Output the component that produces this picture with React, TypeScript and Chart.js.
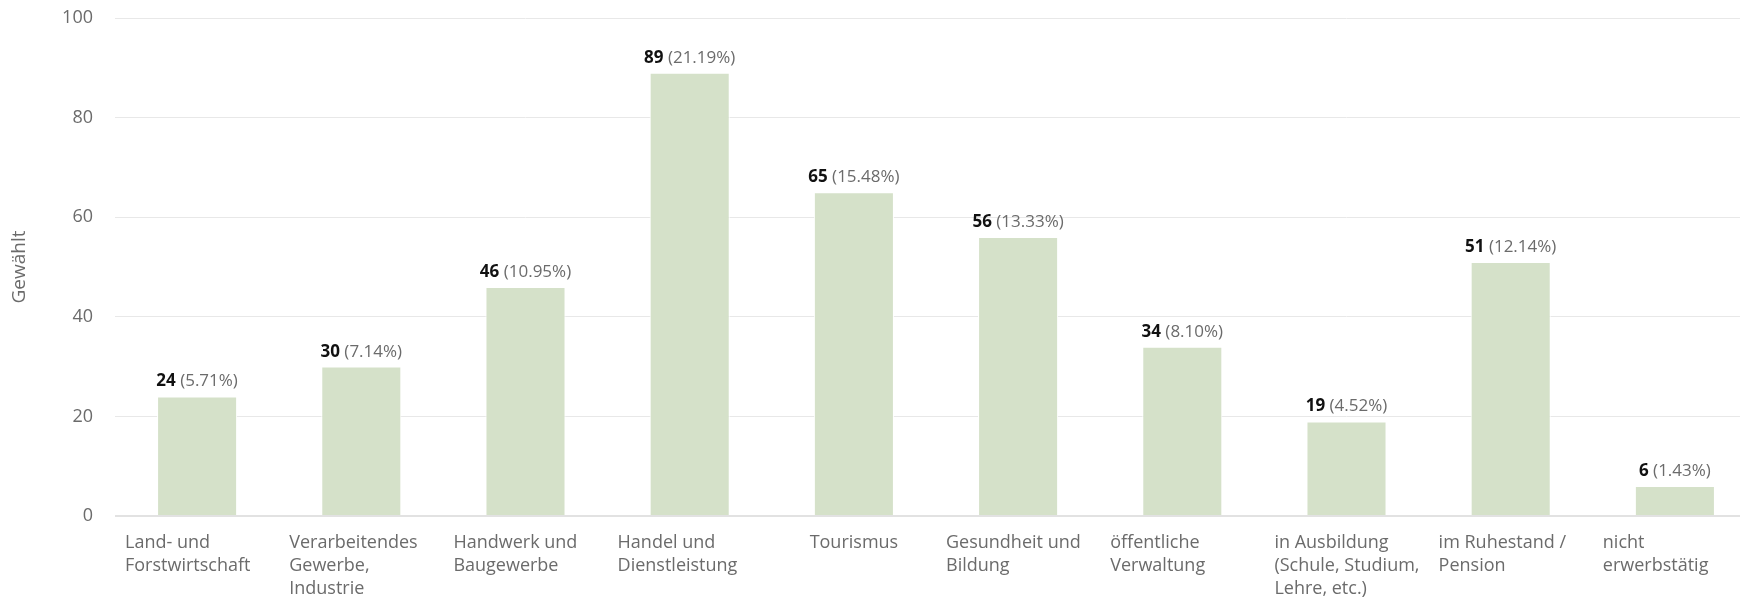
import React, { useEffect, useRef } from 'react';
import { Chart, registerables } from 'chart.js';

Chart.register(...registerables);

const categories: string[][] = [
  ['Land- und', 'Forstwirtschaft'],
  ['Verarbeitendes', 'Gewerbe,', 'Industrie'],
  ['Handwerk und', 'Baugewerbe'],
  ['Handel und', 'Dienstleistung'],
  ['Tourismus'],
  ['Gesundheit und', 'Bildung'],
  ['öffentliche', 'Verwaltung'],
  ['in Ausbildung', '(Schule, Studium,', 'Lehre, etc.)'],
  ['im Ruhestand /', 'Pension'],
  ['nicht', 'erwerbstätig'],
];
const counts: number[] = [24, 30, 46, 89, 65, 56, 34, 19, 51, 6];
const percentLabels: string[] = ['5.71%', '7.14%', '10.95%', '21.19%', '15.48%', '13.33%', '8.10%', '4.52%', '12.14%', '1.43%'];
const yMin = 0;
const yMax = 100;
const yStep = 20;
const yTitle = 'Gewählt';

const FONT = '"Open Sans", "Noto Sans", sans-serif';
const TICK_COLOR = '#6b6b6b';
const BAR_COLOR = 'rgb(213, 225, 201)';

const CANVAS_W = 1752;
const CANVAS_H = 590;

const barLabelPlugin = {
  id: 'barLabels',
  afterDatasetsDraw(chart: any) {
    const ctx = chart.ctx;
    const meta = chart.getDatasetMeta(0);
    meta.data.forEach((bar: any, i: number) => {
      const num = String(counts[i]);
      const pct = ' (' + percentLabels[i] + ')';
      ctx.save();
      ctx.font = `bold 17px ${FONT}`;
      const w1 = ctx.measureText(num).width;
      ctx.font = `17px ${FONT}`;
      const w2 = ctx.measureText(pct).width;
      const start = bar.x - (w1 + w2) / 2;
      const y = bar.y - 10;
      ctx.textBaseline = 'alphabetic';
      ctx.textAlign = 'left';
      ctx.font = `bold 17px ${FONT}`;
      ctx.fillStyle = '#111111';
      ctx.fillText(num, start, y);
      ctx.font = `17px ${FONT}`;
      ctx.fillStyle = TICK_COLOR;
      ctx.fillText(pct, start + w1, y);
      ctx.restore();
    });
  },
};

const categoryLabelPlugin = {
  id: 'categoryLabels',
  afterDraw(chart: any) {
    const ctx = chart.ctx;
    const xs = chart.scales.x;
    const n = categories.length;
    const catW = (xs.right - xs.left) / n;
    const lineH = 23;
    const firstY = xs.top + 27;
    ctx.save();
    ctx.font = `18px ${FONT}`;
    ctx.fillStyle = TICK_COLOR;
    ctx.textBaseline = 'middle';
    categories.forEach((lines, i) => {
      const cx = xs.getPixelForValue(i);
      let x: number;
      if (lines.length === 1) {
        ctx.textAlign = 'center';
        x = cx;
      } else {
        ctx.textAlign = 'left';
        x = cx - catW / 2 + 10;
      }
      lines.forEach((ln, j) => ctx.fillText(ln, x, firstY + j * lineH));
    });
    ctx.restore();
  },
};

export default function App() {
  const canvasRef = useRef<HTMLCanvasElement | null>(null);

  useEffect(() => {
    document.documentElement.style.overflow = 'hidden';
    if (!canvasRef.current) return;
    const chart = new Chart(canvasRef.current, {
      type: 'bar',
      data: {
        labels: categories.map((c) => c.join(' ')),
        datasets: [
          {
            data: counts,
            backgroundColor: BAR_COLOR,
            borderColor: '#ffffff',
            borderWidth: 1,
            categoryPercentage: 0.5,
            barPercentage: 0.975,
          },
        ],
      },
      options: {
        animation: false,
        responsive: false,
        devicePixelRatio: 1,
        layout: { padding: { top: 10, right: 3, left: 0, bottom: 0 } },
        plugins: {
          legend: { display: false },
          tooltip: { enabled: false },
        },
        scales: {
          x: {
            grid: { display: false, drawTicks: false },
            border: { display: false },
            ticks: { display: false },
            afterFit(scale: any) {
              scale.height = 82;
              scale.paddingLeft = 0;
              scale.paddingRight = 0;
            },
          },
          y: {
            min: yMin,
            max: yMax,
            ticks: {
              stepSize: yStep,
              padding: 22,
              color: TICK_COLOR,
              font: { family: FONT, size: 18 },
            },
            grid: {
              drawTicks: false,
              color: (c: any) => (c.tick && c.tick.value === 0 ? '#e2e2e2' : '#e8e8e8'),
              lineWidth: (c: any) => (c.tick && c.tick.value === 0 ? 2 : 1),
            },
            border: { display: false },
            title: {
              display: true,
              text: yTitle,
              color: TICK_COLOR,
              font: { family: FONT, size: 19 },
              padding: { top: 0, bottom: 0 },
            },
            afterFit(scale: any) {
              scale.width = 107;
              scale.paddingTop = 0;
              scale.paddingBottom = 0;
            },
          },
        },
      },
      plugins: [barLabelPlugin, categoryLabelPlugin],
    } as any);
    return () => chart.destroy();
  }, []);

  return (
    <div style={{ width: CANVAS_W, height: CANVAS_H }}>
      <canvas
        ref={canvasRef}
        width={CANVAS_W}
        height={CANVAS_H}
        style={{ display: 'block', width: CANVAS_W, height: CANVAS_H }}
      />
    </div>
  );
}
